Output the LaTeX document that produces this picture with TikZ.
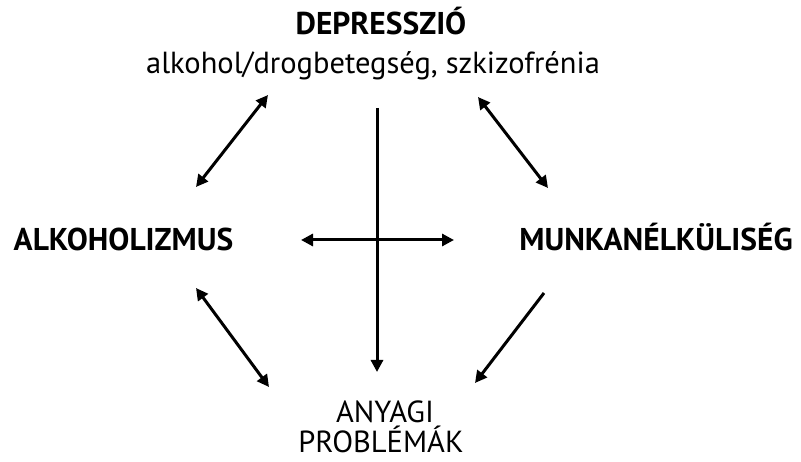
\documentclass[tikz,border=0pt]{standalone}
\usepackage{fontspec}
\setmainfont{PT Sans}
\usetikzlibrary{arrows.meta}
\tikzset{
  conn/.style={line width=3pt, -{Triangle[length=12pt,width=12pt]}},
  biconn/.style={line width=3pt, {Triangle[length=12pt,width=12pt]}-{Triangle[length=12pt,width=12pt]}},
  lbl/.style={inner sep=0pt, anchor=base},
  boldlbl/.style={lbl, font=\fontsize{31.5}{36}\selectfont\bfseries},
  reglbl/.style={lbl, font=\fontsize{30.5}{36}\selectfont}
}
\begin{document}
\begin{tikzpicture}[x=1pt,y=-1pt]
\useasboundingbox (0,0) rectangle (801,462);
\node[boldlbl] (dep) at (381,35) {DEPRESSZIÓ};
\node[reglbl] (dep2) at (373,74) {alkohol/drogbetegség, szkizofrénia};
\node[boldlbl] (alk) at (123.5,251) {ALKOHOLIZMUS};
\node[boldlbl] (mun) at (656,251) {MUNKANÉLKÜLISÉG};
\node[reglbl] (any) at (385,422) {ANYAGI};
\node[reglbl] (prob) at (381,452) {PROBLÉMÁK};
% connector ends
\coordinate (a1) at (268,95);
\coordinate (a2) at (196,187);
\coordinate (b1) at (478,97);
\coordinate (b2) at (548,188);
\coordinate (c1) at (196,288);
\coordinate (c2) at (269,387);
\coordinate (d1) at (544,293);
\coordinate (d2) at (475,383);
\coordinate (v1) at (377,108);
\coordinate (v2) at (377,372);
\coordinate (h1) at (301,240);
\coordinate (h2) at (454,240);
\draw[biconn] (a1) -- (a2);
\draw[biconn] (b1) -- (b2);
\draw[biconn] (c1) -- (c2);
\draw[conn] (d1) -- (d2);
\draw[conn] (v1) -- (v2);
\draw[biconn] (h1) -- (h2);
\end{tikzpicture}
\end{document}
